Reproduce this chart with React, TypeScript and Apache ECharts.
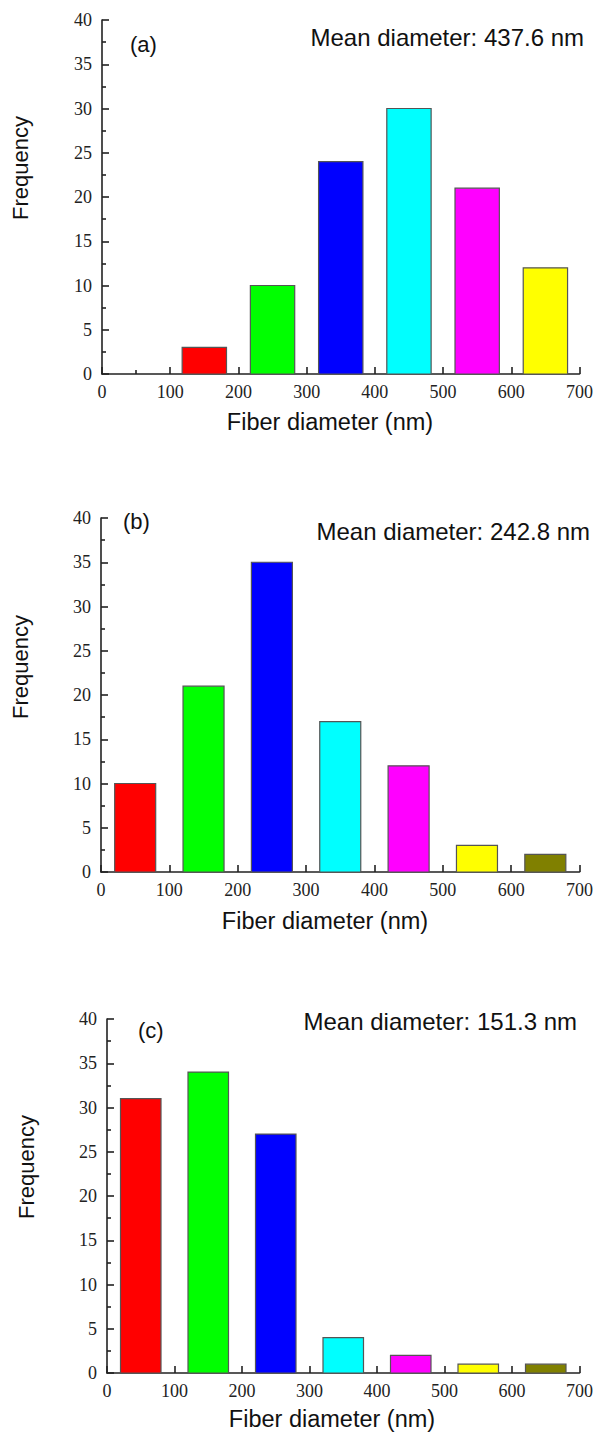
import React, { useEffect, useRef } from "react";
import * as echarts from "echarts";

const palette = ["#ff0000", "#00ff00", "#0000ff", "#00ffff", "#ff00ff", "#ffff00", "#808000"];

const binsA = [150, 250, 350, 450, 550, 650];
const freqA = [3, 10, 24, 30, 21, 12];
const binsB = [50, 150, 250, 350, 450, 550, 650];
const freqB = [10, 21, 35, 17, 12, 3, 2];
const binsC = [50, 150, 250, 350, 450, 550, 650];
const freqC = [31, 34, 27, 4, 2, 1, 1];

const xTicks = [0, 100, 200, 300, 400, 500, 600, 700];
const yTicks = [0, 5, 10, 15, 20, 25, 30, 35, 40];

const panels = [
  { label: "(a)", mean: "Mean diameter: 437.6 nm", bins: binsA, freq: freqA, barW: 65,
    grid: { left: 102, top: 20, width: 480, height: 354 },
    lab: [130, 45], meanPos: [584, 37], xName: [330, 422], yName: [20, 168] },
  { label: "(b)", mean: "Mean diameter: 242.8 nm", bins: binsB, freq: freqB, barW: 60,
    grid: { left: 101, top: 518, width: 480, height: 354 },
    lab: [123, 522], meanPos: [590, 531], xName: [325, 921], yName: [20, 667] },
  { label: "(c)", mean: "Mean diameter: 151.3 nm", bins: binsC, freq: freqC, barW: 60,
    grid: { left: 107, top: 1019, width: 478, height: 354 },
    lab: [138, 1031], meanPos: [577, 1021], xName: [332, 1419], yName: [26, 1167] },
];

const axisColor = "#222";
const sans = "'Liberation Sans', Arial, sans-serif";
const serif = "'Liberation Serif', 'Times New Roman', serif";

export default function App() {
  const ref = useRef<HTMLDivElement>(null);
  useEffect(() => {
    if (!ref.current) return;
    const chart = echarts.init(ref.current, null, { renderer: "svg" });
    const grids: any[] = [];
    const xAxes: any[] = [];
    const yAxes: any[] = [];
    const series: any[] = [];
    const graphics: any[] = [];
    panels.forEach((p, i) => {
      grids.push({ ...p.grid, containLabel: false });
      xAxes.push({
        type: "value", gridIndex: i, min: xTicks[0], max: xTicks[xTicks.length - 1], interval: 100,
        axisLine: { show: true, onZero: false, lineStyle: { color: axisColor, width: 1.6 } },
        axisTick: { show: true, inside: true, length: 7, lineStyle: { color: axisColor, width: 1.6 } },
        minorTick: { show: true, splitNumber: 2, length: 4, lineStyle: { color: axisColor, width: 1.6 } },
        splitLine: { show: false },
        axisLabel: { color: "#222", fontFamily: serif, fontSize: 18, margin: 9, showMinLabel: true, showMaxLabel: true },
      });
      yAxes.push({
        type: "value", gridIndex: i, min: yTicks[0], max: yTicks[yTicks.length - 1], interval: 5,
        axisLine: { show: true, onZero: false, lineStyle: { color: axisColor, width: 1.6 } },
        axisTick: { show: true, inside: true, length: 7, lineStyle: { color: axisColor, width: 1.6 } },
        minorTick: { show: true, splitNumber: 2, length: 4, lineStyle: { color: axisColor, width: 1.6 } },
        splitLine: { show: false },
        axisLabel: { color: "#222", fontFamily: serif, fontSize: 18, margin: 10, showMinLabel: true, showMaxLabel: true },
      });
      const half = p.barW / 2;
      series.push({
        type: "custom", xAxisIndex: i, yAxisIndex: i,
        encode: { x: 0, y: 1 },
        data: p.bins.map((b, k) => [b, p.freq[k]]),
        renderItem: (params: any, api: any) => {
          const x = api.value(0);
          const y = api.value(1);
          const p0 = api.coord([x - half, y]);
          const p1 = api.coord([x + half, 0]);
          return {
            type: "rect",
            shape: { x: p0[0], y: p0[1], width: p1[0] - p0[0], height: p1[1] - p0[1] },
            style: { fill: palette[params.dataIndex], stroke: "#555", lineWidth: 1.2 },
          };
        },
      });
      graphics.push(
        { type: "text", left: p.lab[0], top: p.lab[1] - 12, style: { text: p.label, font: `22px ${sans}`, fill: "#111" } },
        { type: "text", x: p.meanPos[0], y: p.meanPos[1], style: { text: p.mean, font: `24px ${sans}`, fill: "#111", textAlign: "right", textVerticalAlign: "middle" } },
        { type: "text", x: p.xName[0], y: p.xName[1], style: { text: "Fiber diameter (nm)", font: `23.5px ${sans}`, fill: "#111", textAlign: "center", textVerticalAlign: "middle" } },
        { type: "text", x: p.yName[0], y: p.yName[1], rotation: Math.PI / 2, style: { text: "Frequency", font: `22px ${sans}`, fill: "#111", textAlign: "center", textVerticalAlign: "middle" } },
      );
    });
    chart.setOption({
      animation: false,
      backgroundColor: "#fff",
      grid: grids,
      xAxis: xAxes,
      yAxis: yAxes,
      series,
      graphic: graphics,
    });
    return () => chart.dispose();
  }, []);
  return <div ref={ref} style={{ position: "absolute", left: 0, top: 0, width: 596, height: 1432 }} />;
}
